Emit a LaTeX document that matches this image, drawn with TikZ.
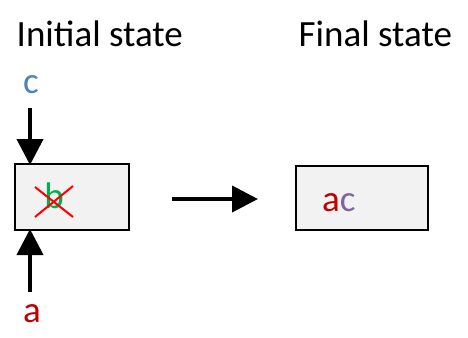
\documentclass[tikz,border=0pt]{standalone}
\usepackage{fontspec}
\setmainfont{Carlito}
\usetikzlibrary{arrows.meta}
\definecolor{boxfill}{HTML}{F2F2F2}
\definecolor{cblue}{HTML}{4F81BD}
\definecolor{ared}{HTML}{C00000}
\definecolor{bgreen}{HTML}{00B050}
\definecolor{cpurple}{HTML}{8064A2}
\begin{document}
\begin{tikzpicture}[x=1pt,y=-1pt,
  statebox/.style={draw=black,line width=2pt,fill=boxfill},
  bigarrow/.style={line width=4pt,-{Triangle[length=26pt,width=26pt]}},
  lbl/.style={font=\fontsize{37}{40}\selectfont,inner sep=0pt,anchor=base},
  title/.style={font=\fontsize{37}{40}\selectfont,inner sep=0pt,anchor=base west},
  cross/.style={draw=red,line width=2pt}]
\useasboundingbox (0,0) rectangle (468,337);
\node[title] (t1) at (16.5,47) {Initial state};
\node[title] (t2) at (298.5,47) {Final state};
\path[statebox] (15,164) rectangle (129,230);
\coordinate (btop) at (30,165);
\coordinate (bbot) at (30,229);
\node[lbl,text=cblue] (c) at (31,93) {c};
\node[lbl,text=ared] (a) at (32,322) {a};
\coordinate (cs) at (30,108);
\coordinate (as) at (30,292);
\draw[bigarrow] (cs) -- (btop);
\draw[bigarrow] (as) -- (bbot);
\node[lbl,text=bgreen] (b) at (54,208) {b};
\draw[cross] (35,187) -- (73,217);
\draw[cross] (35,217) -- (73,186);
\coordinate (hs) at (172,199);
\coordinate (he) at (258,199);
\draw[bigarrow] (hs) -- (he);
\node[statebox,minimum width=132pt,minimum height=64pt,inner sep=0pt] (fin) at (362,198) {};
\node[lbl,anchor=base west] (ac) at (322,211) {\textcolor{ared}{a}\textcolor{cpurple}{c}};
\end{tikzpicture}
\end{document}
